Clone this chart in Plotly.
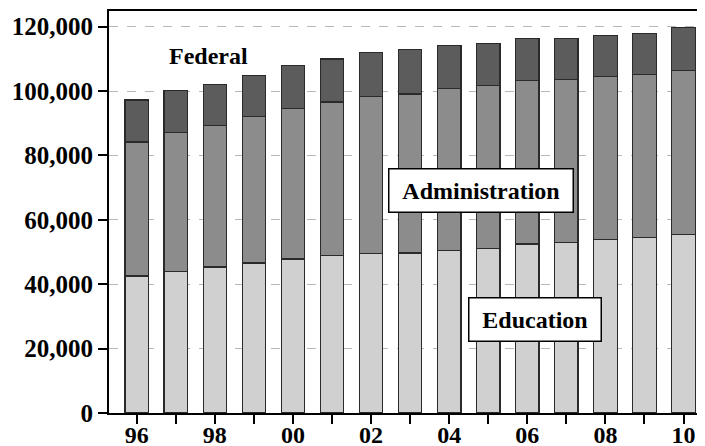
import plotly.graph_objects as go

years = list(range(1996, 2011))
education = [42550, 44010, 45350, 46590, 47830, 48970, 49480, 49700, 50530,
             51150, 52490, 53010, 53840, 54450, 55490]
admin_top = [84170, 87180, 89240, 92140, 94630, 96600, 98250, 99080, 100850,
             101780, 103330, 103640, 104470, 105090, 106440]
total = [97200, 100230, 102090, 104880, 107990, 109950, 111920, 112960, 114200,
         114820, 116270, 116370, 117300, 117920, 119790]
administration = [a - e for a, e in zip(admin_top, education)]
federal = [t - a for t, a in zip(total, admin_top)]
x_labels = [str(y)[2:] if y % 2 == 0 else "" for y in years]
y_ticks = [0, 20000, 40000, 60000, 80000, 100000, 120000]

FONT = "Liberation Serif"
line = dict(color="#2a2a2a", width=1.2)

fig = go.Figure()
fig.add_bar(x=years, y=education, name="Education", marker=dict(color="#d0d0d0", line=line), width=0.6)
fig.add_bar(x=years, y=administration, name="Administration", marker=dict(color="#8c8c8c", line=line), width=0.6)
fig.add_bar(x=years, y=federal, name="Federal", marker=dict(color="#5c5c5c", line=line), width=0.6)

fig.update_layout(
    template="none",
    barmode="stack",
    width=697, height=438,
    margin=dict(l=101, r=0, t=3, b=33, pad=0),
    plot_bgcolor="white", paper_bgcolor="white",
    showlegend=False,
    font=dict(family=FONT, color="black"),
    xaxis=dict(
        automargin=False,
        range=[1995.29, 2010.55],
        tickvals=years, ticktext=x_labels,
        ticks="outside", ticklen=9, tickwidth=1.5, tickcolor="black",
        ticklabelstandoff=-10,
        showline=True, linecolor="black", linewidth=2, mirror=True,
        showgrid=False, zeroline=False,
        tickfont=dict(family=FONT, size=24, color="black", weight="bold"),
    ),
    yaxis=dict(
        automargin=False,
        range=[0, 124850],
        tickvals=y_ticks, ticktext=[f"{v:,}" for v in y_ticks],
        ticks="outside", ticklen=9, tickwidth=1.5, tickcolor="black",
        showline=True, linecolor="black", linewidth=2,
        showgrid=True, gridcolor="#b8b8b8", griddash="dash", gridwidth=1,
        zeroline=False,
        tickfont=dict(family=FONT, size=25, color="black", weight="bold"),
    ),
    annotations=[
        dict(x=1997.83, y=110980, text="Federal", showarrow=False, xref="x", yref="y",
             font=dict(family=FONT, size=24, color="black", weight="bold")),
        dict(x=2004.81, y=69200, text="Administration", showarrow=False, xref="x", yref="y",
             font=dict(family=FONT, size=24, color="black", weight="bold"), width=167,
             bgcolor="white", bordercolor="black", borderwidth=1.5, borderpad=8),
        dict(x=2006.2, y=28980, text="Education", showarrow=False, xref="x", yref="y",
             font=dict(family=FONT, size=24, color="black", weight="bold"), width=115,
             bgcolor="white", bordercolor="black", borderwidth=1.5, borderpad=8),
    ],
)

fig.write_html("out.html")
